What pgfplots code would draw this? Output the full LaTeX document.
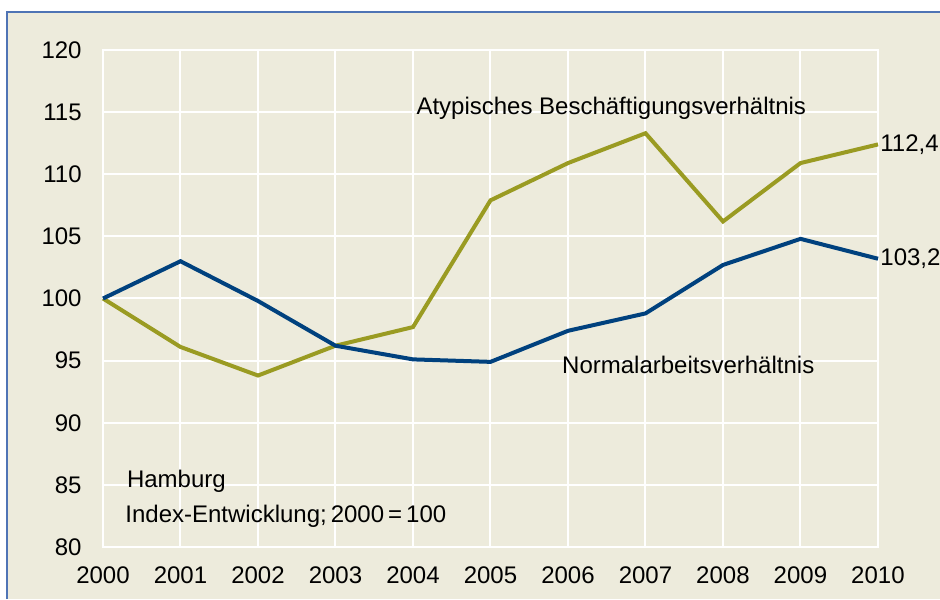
\documentclass[border=0pt]{standalone}
\usepackage{pgfplots}
\pgfplotsset{compat=1.18}
\usepackage{fontspec}
\setmainfont{Liberation Sans}
\definecolor{bg}{HTML}{EDEBDC}
\definecolor{olive}{HTML}{9A9B22}
\definecolor{navy}{HTML}{00417E}
\definecolor{frame}{HTML}{4F74B5}
\begin{document}
\fontsize{12}{14}\selectfont
\begin{tikzpicture}
\useasboundingbox (0,0) rectangle (470pt,299.5pt);
\fill[white] (0,0) rectangle (470pt,299.5pt);
\fill[bg] (3.5pt,0) rectangle (470pt,293.5pt);
\draw[frame, line width=1pt] (3.5pt,0) -- (3.5pt,293.5pt) -- (470pt,293.5pt);
\begin{axis}[
  at={(51.5pt,26pt)}, anchor=south west,
  scale only axis, width=387.5pt, height=248.5pt,
  xmin=2000, xmax=2010, ymin=80, ymax=120,
  xtick={2000,...,2010}, ytick={80,85,...,120},
  grid=major, major grid style={white, line width=1pt},
  axis line style={white, line width=1pt},
  major tick length=0pt,
  /pgf/number format/assume math mode=true,
  /pgf/number format/set thousands separator={},
  tick label style={font=\fontsize{12}{14}\selectfont},
  yticklabel style={anchor=east, inner sep=0pt, xshift=-10.5pt},
  xticklabel style={anchor=north, inner sep=0pt, yshift=-9.5pt},
  clip=false,
]
\addplot[olive, line width=2pt] coordinates {
(2000,100) (2001,96.1) (2002,93.8) (2003,96.2) (2004,97.7) (2005,107.9)
(2006,110.9) (2007,113.3) (2008,106.2) (2009,110.9) (2010,112.4)};
\addplot[navy, line width=2pt] coordinates {
(2000,100) (2001,103.0) (2002,99.8) (2003,96.2) (2004,95.1) (2005,94.9)
(2006,97.4) (2007,98.8) (2008,102.7) (2009,104.8) (2010,103.2)};
\node[anchor=west, inner sep=0pt] at (axis cs:2004.04,115.3) {Atypisches Beschäftigungsverhältnis};
\node[anchor=west, inner sep=0pt] at (axis cs:2005.92,94.66) {Normalarbeitsverhältnis};
\node[anchor=west, inner sep=0pt] at (axis cs:2000.305,85.27) {Hamburg};
\node[anchor=west, inner sep=0pt] at (axis cs:2000.284,82.45) {Index-Entwicklung;\,2000\,=\,100};
\node[anchor=west, inner sep=0pt, xshift=1pt] at (axis cs:2010,112.4) {112,4};
\node[anchor=west, inner sep=0pt, xshift=1pt] at (axis cs:2010,103.2) {103,2};
\end{axis}
\end{tikzpicture}
\end{document}
